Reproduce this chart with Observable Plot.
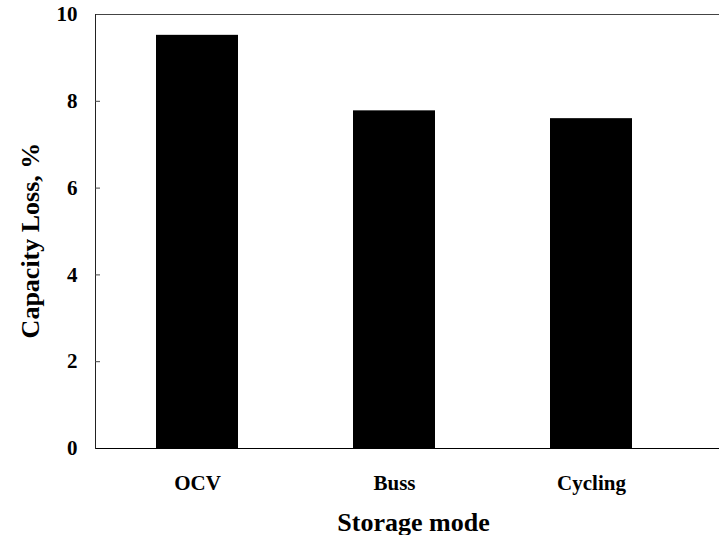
<!DOCTYPE html>
<html>
<head>
<meta charset="utf-8">
<script src="https://cdn.jsdelivr.net/npm/d3@7"></script>
<script src="https://cdn.jsdelivr.net/npm/@observablehq/plot@0.6"></script>
<style>
  html, body { margin: 0; padding: 0; background: #fff; }
  #chart { width: 719px; height: 535px; }
</style>
</head>
<body>
<div id="chart"></div>
<script>
const modes = ["OCV", "Buss", "Cycling"];
const capacityLoss = [9.52, 7.78, 7.6];
const yTicks = [0, 2, 4, 6, 8, 10];
const xTitle = "Storage mode";
const yTitle = "Capacity Loss, %";

const data = modes.map((m, i) => ({mode: m, loss: capacityLoss[i]}));

const chart = Plot.plot({
  width: 719,
  height: 535,
  marginLeft: 95,
  marginRight: 0,
  marginTop: 14,
  marginBottom: 87,
  style: {fontFamily: "'Liberation Serif', 'Times New Roman', serif", fontWeight: "bold", background: "#fff", color: "#000"},
  x: {domain: modes, paddingInner: 0.585, paddingOuter: 0.372, align: 0.41},
  y: {domain: [0, 10]},
  marks: [
    Plot.barY(data, {x: "mode", y: "loss", fill: "black"}),
    Plot.ruleY([0], {stroke: "#000", strokeWidth: 1.2}),
    Plot.ruleY([10], {stroke: "#444", strokeWidth: 1}),
    Plot.frame({anchor: "left", stroke: "#222"}),
    Plot.axisY({ticks: yTicks, tickSize: 0, tickPadding: 18, fontSize: 21, fontWeight: "bold", label: null, tickFormat: d => String(d)}),
    Plot.axisY({ticks: yTicks.slice(1, -1), tickSize: -5, tickFormat: () => "", label: null, stroke: "#444"}),
    Plot.axisX({tickSize: 0, tickPadding: 27, fontSize: 21, fontWeight: "bold", label: null}),
    Plot.text([xTitle], {frameAnchor: "bottom", text: d => d, dx: 6, dy: 82, lineAnchor: "bottom", fontSize: 26, fontWeight: "bold"}),
    Plot.text([yTitle], {frameAnchor: "left", textAnchor: "middle", text: d => d, rotate: -90, dx: -57, dy: 9, lineAnchor: "bottom", fontSize: 26, fontWeight: "bold"})
  ]
});
document.getElementById("chart").appendChild(chart);
</script>
</body>
</html>
